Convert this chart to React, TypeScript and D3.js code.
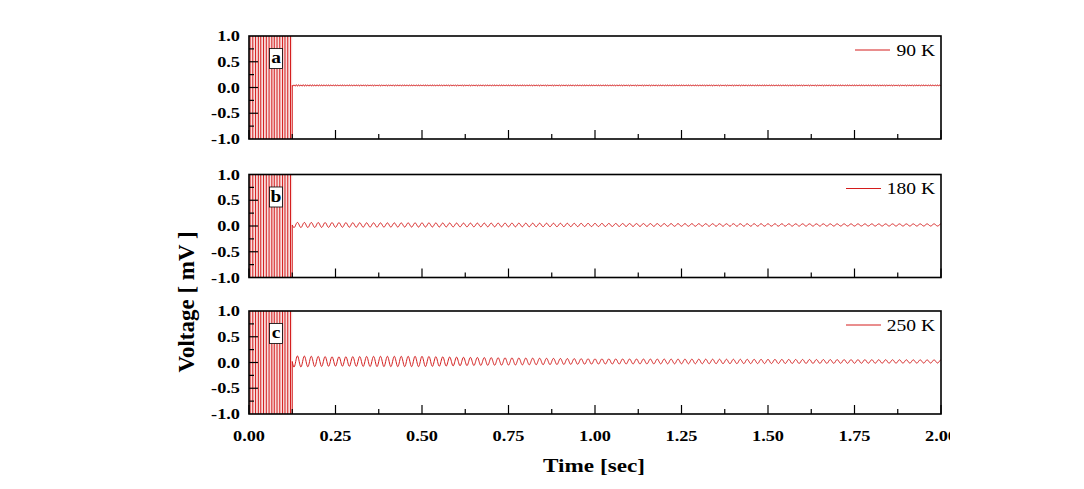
import React from "react";
import * as d3 from "d3";

// ---------- data ----------
const panelLetters = ["a", "b", "c"];
const legendLabels = ["90 K", "180 K", "250 K"];
const xTickValues = [0, 0.25, 0.5, 0.75, 1.0, 1.25, 1.5, 1.75, 2.0];
const xMinorTickValues = [0.125, 0.375, 0.625, 0.875, 1.125, 1.375, 1.625, 1.875];
const yTickValues = [-1.0, -0.5, 0.0, 0.5, 1.0];
const yMinorTickValues = [-0.75, -0.25, 0.25, 0.75];

// times (s) of the vertical clipped lines in the initial burst (same for each panel)
const burstTimes = [0.003, 0.011, 0.019, 0.027, 0.034, 0.042, 0.05, 0.058, 0.066, 0.073, 0.081, 0.089, 0.097, 0.104, 0.112, 0.12];
const burstEnd = 0.125;

// envelope of the residual oscillation
const envTimes = [0.125, 0.25, 0.375, 0.5, 0.625, 0.75, 1.0, 1.25, 1.5, 1.75, 2.0];
const ampA = [0.015, 0.012, 0.012, 0.012, 0.012, 0.012, 0.012, 0.012, 0.012, 0.012, 0.012];
const ampB = [0.05, 0.045, 0.04, 0.04, 0.035, 0.035, 0.03, 0.025, 0.022, 0.02, 0.02];
const ampC = [0.11, 0.09, 0.1, 0.1, 0.08, 0.07, 0.05, 0.045, 0.04, 0.035, 0.03];
const offsets = [0.04, 0.02, 0.02];
const oscFreq = [150, 50, 50]; // Hz
const amps = [ampA, ampB, ampC];

// ---------- layout ----------
const W = 1084;
const H = 489;
const left = 249;
const right = 941;
const panelTops = [36, 174.5, 311];
const panelH = 103;
const red = "#d41c1c";
const font = "'Liberation Serif', 'Times New Roman', serif";
const SX = 1.22;

const x = d3.scaleLinear().domain([0, 2]).range([left, right]);

function buildSignal(i: number): [number, number][] {
  const envScale = d3.scaleLinear().domain(envTimes).range(amps[i]);
  const pts: [number, number][] = [];
  // burst
  let up = false;
  pts.push([0, -1.4]);
  burstTimes.forEach((t) => {
    const from = up ? 1.4 : -1.4;
    const to = up ? -1.4 : 1.4;
    pts.push([t, from]);
    pts.push([t, to]);
    up = !up;
  });
  pts.push([burstEnd, up ? 1.4 : -1.4]);
  pts.push([burstEnd, offsets[i]]);
  for (let t = burstEnd; t <= 2.0001; t += 0.001) {
    const a = envScale(t);
    const v = offsets[i] - a * Math.sin(2 * Math.PI * oscFreq[i] * (t - burstEnd));
    pts.push([t, v]);
  }
  return pts;
}

function SText(props: { x: number; y: number; anchor?: string; size: number; bold?: boolean; children: React.ReactNode }) {
  return (
    <text
      transform={`translate(${props.x},${props.y}) scale(${SX},1)`}
      textAnchor={props.anchor || "start"}
      fontFamily={font}
      fontSize={props.size}
      fontWeight={props.bold ? "bold" : "normal"}
      fill="#000"
    >
      {props.children}
    </text>
  );
}

function Panel({ i }: { i: number }) {
  const top = panelTops[i];
  const y = d3.scaleLinear().domain([-1, 1]).range([top + panelH, top]);
  const line = d3
    .line<[number, number]>()
    .x((d) => x(d[0]))
    .y((d) => y(d[1]));
  const data = buildSignal(i);
  const clipId = `clip${i}`;
  const bottom = top + panelH;
  return (
    <g>
      <defs>
        <clipPath id={clipId}>
          <rect x={left} y={top} width={right - left} height={panelH} />
        </clipPath>
      </defs>
      <g clipPath={`url(#${clipId})`}>
        <rect x={x(0)} y={top} width={x(burstEnd) - x(0)} height={panelH} fill="#f8dede" />
        <path d={line(data) || ""} fill="none" stroke={red} strokeWidth={1} />
      </g>
      {/* panel letter box */}
      <rect x={269.5} y={top + 12.5} width={13} height={20} fill="#fff" stroke="#000" strokeWidth={0.8} />
      <SText x={276} y={top + 27} anchor="middle" size={16} bold>
        {panelLetters[i]}
      </SText>
      {/* legend */}
      <line x1={855 - (legendLabels[i].length - 4) * 9} x2={890 - (legendLabels[i].length - 4) * 9} y1={top + 14} y2={top + 14} stroke={red} strokeWidth={1} />
      <SText x={935} y={top + 19.5} anchor="end" size={16}>
        {legendLabels[i]}
      </SText>
      {/* frame */}
      <rect x={left} y={top} width={right - left} height={panelH} fill="none" stroke="#000" strokeWidth={1.6} />
      {/* y ticks */}
      {yTickValues.map((v) => (
        <g key={`yt${v}`}>
          {v > -1 && v < 1 && <line x1={left} x2={left + 9} y1={y(v)} y2={y(v)} stroke="#000" strokeWidth={1.2} />}
          <SText x={240} y={y(v) + 5} anchor="end" size={15} bold>
            {v.toFixed(1)}
          </SText>
        </g>
      ))}
      {yMinorTickValues.map((v) => (
        <line key={`ym${v}`} x1={left} x2={left + 5} y1={y(v)} y2={y(v)} stroke="#000" strokeWidth={1.2} />
      ))}
      {/* x ticks */}
      {xTickValues.map((v) => (
        <line key={`xt${v}`} x1={x(v)} x2={x(v)} y1={bottom} y2={bottom - 9} stroke="#000" strokeWidth={1.2} />
      ))}
      {xMinorTickValues.map((v) => (
        <line key={`xm${v}`} x1={x(v)} x2={x(v)} y1={bottom} y2={bottom - 5} stroke="#000" strokeWidth={1.2} />
      ))}
    </g>
  );
}

export default function App() {
  return (
    <svg width={W} height={H} style={{ position: "absolute", left: 0, top: 0, background: "#fff" }}>
      <rect x={0} y={0} width={W} height={H} fill="#fff" />
      {panelLetters.map((_, i) => (
        <Panel key={i} i={i} />
      ))}
      {xTickValues.map((v) => (
        <SText key={`xl${v}`} x={x(v)} y={441} anchor="middle" size={15} bold>
          {v.toFixed(2)}
        </SText>
      ))}
      {/* clip the last label at page edge like the reference */}
      <rect x={950} y={420} width={134} height={30} fill="#fff" />
      <SText x={594} y={472} anchor="middle" size={19} bold>
        Time [sec]
      </SText>
      <text
        transform="translate(194,302) rotate(-90)"
        textAnchor="middle"
        fontFamily={font}
        fontSize={23}
        fontWeight="bold"
        fill="#000"
      >
        Voltage [ mV ]
      </text>
    </svg>
  );
}
